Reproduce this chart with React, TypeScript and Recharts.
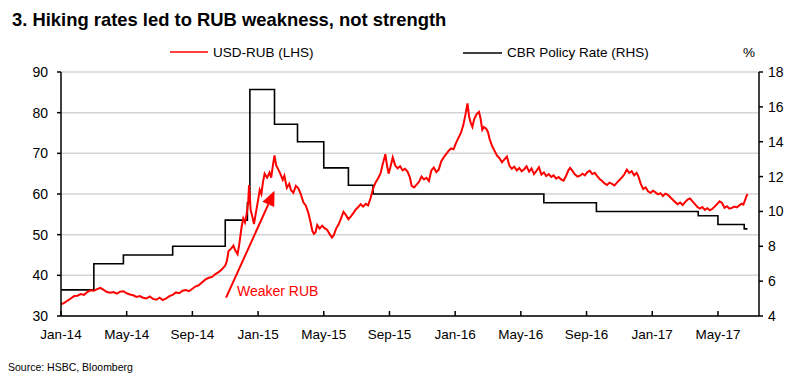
import * as React from 'react';
import { LineChart, Line, XAxis, YAxis, CartesianGrid, ReferenceLine } from 'recharts';

// months since Jan-14
const xTicks = [0, 4, 8, 12, 16, 20, 24, 28, 32, 36, 40];
const xTickLabels = ['Jan-14', 'May-14', 'Sep-14', 'Jan-15', 'May-15', 'Sep-15', 'Jan-16', 'May-16', 'Sep-16', 'Jan-17', 'May-17'];
const lhsTicks = [30, 40, 50, 60, 70, 80, 90];
const rhsTicks = [4, 6, 8, 10, 12, 14, 16, 18];

// USD-RUB (LHS): [month, value]
const usdRub: [number, number][] = [
  [0, 32.9], [0.2, 33.2], [0.4, 33.8], [0.6, 34.3], [0.8, 34.9], [1.0, 35.0], [1.2, 35.4], [1.4, 35.2],
  [1.6, 35.9], [1.8, 36.3], [2.0, 36.2], [2.2, 36.6], [2.4, 36.9], [2.6, 36.4], [2.8, 35.9], [3.0, 35.7],
  [3.2, 35.9], [3.4, 35.5], [3.6, 36.0], [3.8, 36.1], [4.0, 35.6], [4.2, 35.3], [4.4, 35.1], [4.6, 34.7],
  [4.8, 34.9], [5.0, 34.5], [5.2, 34.3], [5.4, 34.8], [5.6, 34.2], [5.8, 34.0], [6.0, 34.5], [6.2, 33.9],
  [6.4, 34.3], [6.6, 34.9], [6.8, 35.2], [7.0, 35.8], [7.2, 35.6], [7.4, 36.2], [7.6, 36.4], [7.8, 36.1],
  [8.0, 36.7], [8.2, 37.3], [8.4, 37.6], [8.6, 38.3], [8.8, 39.0], [9.0, 39.4], [9.2, 39.6], [9.4, 40.3],
  [9.6, 40.8], [9.8, 41.5], [10.0, 42.4], [10.1, 43.5], [10.2, 46.0], [10.35, 46.5], [10.5, 47.3],
  [10.6, 46.2], [10.75, 45.2], [10.85, 47.5], [11.0, 52.0], [11.1, 54.0], [11.2, 53.0], [11.3, 55.0],
  [11.4, 58.0], [11.45, 62.2], [11.55, 56.0], [11.65, 54.5], [11.75, 52.6], [11.85, 55.0], [12.0, 58.5],
  [12.1, 61.0], [12.2, 60.0], [12.3, 63.0], [12.4, 65.0], [12.55, 64.0], [12.7, 65.3], [12.8, 64.0],
  [12.9, 67.0], [13.0, 69.5], [13.1, 67.0], [13.2, 66.3], [13.35, 65.0], [13.5, 63.5], [13.6, 64.5],
  [13.75, 61.5], [13.9, 62.5], [14.0, 61.0], [14.15, 60.3], [14.3, 62.0], [14.45, 61.4], [14.6, 60.0],
  [14.75, 58.0], [14.9, 57.2], [15.05, 55.5], [15.2, 53.0], [15.3, 51.0], [15.4, 50.2], [15.5, 50.6],
  [15.6, 52.4], [15.75, 51.5], [15.9, 52.2], [16.05, 51.6], [16.2, 51.2], [16.35, 50.2], [16.5, 49.3],
  [16.6, 49.8], [16.75, 51.5], [16.9, 52.5], [17.05, 54.0], [17.2, 55.6], [17.35, 54.8], [17.5, 53.8],
  [17.65, 54.5], [17.8, 55.3], [17.95, 56.2], [18.1, 56.8], [18.25, 57.5], [18.4, 56.9], [18.55, 57.6],
  [18.7, 57.2], [18.85, 59.0], [19.0, 61.3], [19.15, 62.8], [19.3, 63.8], [19.45, 65.0], [19.6, 67.5],
  [19.75, 69.8], [19.85, 67.0], [19.95, 65.0], [20.05, 66.5], [20.2, 69.0], [20.35, 67.0], [20.5, 66.3],
  [20.65, 66.8], [20.8, 65.8], [20.95, 66.2], [21.1, 65.5], [21.25, 64.0], [21.35, 62.0], [21.5, 61.6],
  [21.65, 62.3], [21.8, 63.0], [21.95, 64.3], [22.1, 63.6], [22.25, 64.0], [22.4, 63.2], [22.55, 65.8],
  [22.7, 66.5], [22.85, 65.4], [23.0, 66.0], [23.15, 68.0], [23.3, 69.0], [23.45, 69.8], [23.6, 70.6],
  [23.75, 71.2], [23.9, 71.0], [24.05, 72.5], [24.2, 73.8], [24.35, 75.0], [24.5, 77.0], [24.65, 80.0],
  [24.75, 82.3], [24.85, 79.0], [24.95, 77.5], [25.05, 76.5], [25.15, 78.3], [25.3, 79.6], [25.45, 80.2],
  [25.55, 78.5], [25.65, 75.8], [25.75, 76.5], [25.9, 76.0], [26.0, 75.2], [26.1, 73.5], [26.25, 71.8],
  [26.4, 70.6], [26.55, 69.4], [26.7, 68.8], [26.85, 67.8], [27.0, 68.5], [27.15, 69.2], [27.3, 67.0],
  [27.45, 66.2], [27.6, 66.7], [27.75, 65.8], [27.9, 66.4], [28.05, 65.6], [28.2, 66.1], [28.35, 66.8],
  [28.5, 65.5], [28.65, 66.3], [28.8, 64.9], [28.95, 65.7], [29.1, 66.6], [29.25, 64.8], [29.4, 65.3],
  [29.55, 64.4], [29.7, 64.9], [29.85, 64.2], [30.0, 64.6], [30.15, 63.8], [30.3, 64.2], [30.45, 63.6],
  [30.6, 63.3], [30.75, 64.4], [30.9, 65.9], [31.0, 66.4], [31.15, 65.6], [31.3, 64.8], [31.45, 64.3],
  [31.6, 64.5], [31.75, 65.0], [31.9, 64.6], [32.05, 65.4], [32.2, 65.7], [32.35, 64.9], [32.5, 65.2],
  [32.65, 64.4], [32.8, 63.7], [32.95, 63.2], [33.1, 62.6], [33.25, 62.2], [33.4, 62.8], [33.55, 62.5],
  [33.7, 62.1], [33.85, 62.8], [34.0, 63.4], [34.15, 64.1], [34.3, 64.8], [34.45, 66.0], [34.6, 65.2],
  [34.75, 65.6], [34.9, 64.6], [35.05, 65.2], [35.15, 64.4], [35.3, 62.5], [35.45, 61.2], [35.6, 61.6],
  [35.75, 60.6], [35.9, 60.3], [36.05, 60.8], [36.2, 60.4], [36.35, 59.9], [36.5, 60.2], [36.65, 59.5],
  [36.8, 60.1], [36.95, 59.8], [37.1, 59.2], [37.25, 58.6], [37.4, 58.0], [37.55, 57.5], [37.7, 57.9],
  [37.85, 57.3], [38.0, 58.0], [38.15, 58.6], [38.3, 58.9], [38.45, 58.2], [38.6, 57.5], [38.75, 56.8],
  [38.9, 56.4], [39.05, 56.8], [39.2, 56.1], [39.35, 56.5], [39.5, 56.0], [39.65, 56.3], [39.8, 56.9],
  [39.95, 57.5], [40.1, 58.2], [40.25, 57.8], [40.4, 56.6], [40.55, 57.0], [40.7, 56.4], [40.85, 56.6],
  [41.0, 56.9], [41.15, 56.7], [41.3, 57.2], [41.45, 57.6], [41.55, 57.4], [41.65, 58.5], [41.75, 59.6],
  [41.8, 60.0],
];

// CBR policy rate (RHS), step changes: [month, rate]
const cbrRate: [number, number][] = [
  [0, 5.5], [2.0, 7.0], [3.8, 7.5], [6.8, 8.0], [10.0, 9.5], [11.35, 10.5], [11.5, 17.0], [13.0, 15.0],
  [14.4, 14.0], [16.0, 12.5], [17.5, 11.5], [19.0, 11.0], [29.4, 10.5], [32.6, 10.0], [38.8, 9.75],
  [40.0, 9.25], [41.6, 9.0], [41.8, 9.0],
];

const font = 'Arial, "Liberation Sans", sans-serif';

const fxData = usdRub.map(([m, v]) => ({ m, v }));
const rateData = cbrRate.map(([m, v]) => ({ m, v }));

const XTick = (props: any) => {
  const { x, y, payload } = props;
  const axisY = y - 13;
  const idx = xTicks.indexOf(payload.value);
  return (
    <g>
      <line x1={x} y1={axisY} x2={x} y2={axisY - 5} stroke="#000" strokeWidth={1.5} />
      <text x={x} y={y} dy="0.71em" textAnchor="middle" fontSize={13.5} fontFamily={font} fill="#000">
        {xTickLabels[idx]}
      </text>
    </g>
  );
};

const Arrow = (props: any) => {
  const { x1, y1, x2, y2 } = props;
  const a = Math.atan2(y2 - y1, x2 - x1);
  const len = 15;
  const hw = 6.5;
  const bx = x2 - len * Math.cos(a);
  const by = y2 - len * Math.sin(a);
  const px = -Math.sin(a) * hw;
  const py = Math.cos(a) * hw;
  return (
    <g>
      <line x1={x1} y1={y1} x2={bx} y2={by} stroke="#ff0000" strokeWidth={2} />
      <polygon points={`${x2},${y2} ${bx + px},${by + py} ${bx - px},${by - py}`} fill="#ff0000" />
    </g>
  );
};

export default function App() {
  return (
    <div style={{ position: 'absolute', left: 0, top: 0, width: 795, height: 376, background: '#fff' }}>
      <LineChart width={795} height={376} margin={{ top: 72, right: 0, bottom: 30, left: 0 }}>
        <CartesianGrid vertical={false} yAxisId="l" stroke="#d4d4d4" strokeWidth={1.5} />
        <XAxis
          dataKey="m"
          type="number"
          domain={[0, 42.5]}
          ticks={xTicks}
          interval={0}
          height={30}
          tickSize={0}
          tickMargin={13}
          tickLine={false}
          tick={<XTick />}
          axisLine={{ stroke: '#000', strokeWidth: 1.5 }}
        />
        <YAxis
          yAxisId="l"
          domain={[30, 90]}
          ticks={lhsTicks}
          interval={0}
          width={61}
          tickSize={4}
          tickMargin={9}
          tick={{ fontSize: 14, fontFamily: font, fill: '#000' }}
          tickLine={{ stroke: '#000', strokeWidth: 1.5 }}
          axisLine={{ stroke: '#000', strokeWidth: 1.5 }}
        />
        <YAxis
          yAxisId="r"
          orientation="right"
          domain={[4, 18]}
          ticks={rhsTicks}
          interval={0}
          width={36}
          tickSize={4}
          tickMargin={5}
          tick={{ fontSize: 14, fontFamily: font, fill: '#000' }}
          tickLine={{ stroke: '#000', strokeWidth: 1.5 }}
          axisLine={{ stroke: '#000', strokeWidth: 1.5 }}
        />
        <Line
          yAxisId="r"
          data={rateData}
          dataKey="v"
          type="stepAfter"
          stroke="#000"
          strokeWidth={1.6}
          dot={false}
          isAnimationActive={false}
        />
        <Line
          yAxisId="l"
          data={fxData}
          dataKey="v"
          type="linear"
          stroke="#ff0000"
          strokeWidth={2}
          dot={false}
          isAnimationActive={false}
        />
        <ReferenceLine
          yAxisId="l"
          segment={[{ x: 10.05, y: 34.5 }, { x: 13.0, y: 60.8 }]}
          ifOverflow="visible"
          shape={<Arrow />}
        />
      </LineChart>
      <svg width={795} height={376} style={{ position: 'absolute', left: 0, top: 0, pointerEvents: 'none' }}>
        <text x={12} y={26} fontSize={18.4} fontWeight="bold" fontFamily={font} fill="#000">
          3. Hiking rates led to RUB weakness, not strength
        </text>
        <line x1={170} y1={52} x2={208} y2={52} stroke="#ff0000" strokeWidth={1.5} />
        <text x={213} y={57} fontSize={13.5} fontFamily={font} fill="#000">USD-RUB (LHS)</text>
        <line x1={463} y1={53} x2={502} y2={53} stroke="#000" strokeWidth={1.5} />
        <text x={507} y={57} fontSize={13.5} fontFamily={font} fill="#000">CBR Policy Rate (RHS)</text>
        <text x={743} y={57} fontSize={13.5} fontFamily={font} fill="#000">%</text>
        <text x={237} y={296} fontSize={14} fontFamily={font} fill="#ff0000">Weaker RUB</text>
        <text x={8} y={371} fontSize={10.5} fontFamily={font} fill="#000">Source:  HSBC, Bloomberg</text>
      </svg>
    </div>
  );
}
